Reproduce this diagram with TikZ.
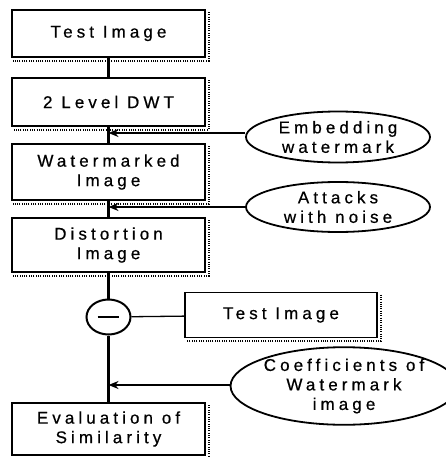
\documentclass[tikz,border=0pt]{standalone}
\usepackage{fontspec}
\setmainfont{Liberation Sans}[LetterSpace=24,FakeBold=0.6]
\usetikzlibrary{shapes.geometric,arrows.meta}
\tikzset{
  txt/.style={font=\fontsize{17}{19.5}\selectfont, align=center, inner sep=0pt},
  box/.style={txt, draw, line width=1.8pt, rectangle, minimum width=193pt},
  oval/.style={txt, draw, line width=1.8pt, ellipse},
  shadowline/.style={line width=1.8pt, dash pattern=on 1pt off 1.3pt},
  vline/.style={line width=2.3pt},
  arr/.style={line width=2pt, -{Stealth[length=10pt,width=8pt]}},
}
\newcommand{\boxshadow}[1]{%
  \draw[shadowline] ([xshift=2.8pt,yshift=-3pt]#1.north east) -- ([xshift=2.8pt,yshift=-2.8pt]#1.south east) -- ([xshift=2pt,yshift=-2.8pt]#1.south west);}
\begin{document}
\begin{tikzpicture}[x=1pt,y=-1pt]
\useasboundingbox (0,0) rectangle (446,457);
\node[box, minimum height=47pt] (t1) at (108.5,33.5) {Test Image};
\node[box, minimum height=48pt] (dwt) at (108.5,102) {2 Level DWT};
\node[box, minimum height=56pt] (wm) at (108.5,172) {Watermarked\\Image};
\node[box, minimum height=54pt] (dist) at (108.5,245) {Distortion\\Image};
\node[draw, line width=2pt, ellipse, minimum width=44pt, minimum height=35pt, inner sep=0pt] (minus) at (108.5,317) {};
\node[box, minimum width=192pt, minimum height=45pt] (t2) at (281,315) {Test Image};
\node[box, minimum height=52pt] (ev) at (108.5,429) {Evaluation of\\Similarity};
\node[oval, minimum width=184pt, minimum height=51pt] (emb) at (338,137) {Embedding\\watermark};
\node[oval, minimum width=184pt, minimum height=50pt] (att) at (338,207) {Attacks\\with noise};
\node[oval, minimum width=201pt, minimum height=73pt] (coef) at (344,386) {Coefficients of\\Watermark\\image};
\foreach \n in {t1,dwt,wm,dist,t2,ev} {\boxshadow{\n}}
% minus sign
\draw[line width=2.6pt] ([xshift=-11pt]minus.center) -- ([xshift=10pt]minus.center);
% main vertical flow
\draw[vline] (t1) -- (dwt);
\draw[vline] (dwt) -- (wm);
\draw[vline] (wm) -- (dist);
\draw[vline] (dist) -- (minus);
\draw[vline] (minus) -- (ev);
\draw[line width=1.3pt] (minus) -- (t2);
% side inputs
\coordinate (a1) at (108.5,133);
\coordinate (a2) at (108.5,207);
\coordinate (a3) at (108.5,385);
\draw[arr] (emb.west |- a1) -- (a1);
\draw[arr] (att.west |- a2) -- (a2);
\draw[arr] (coef.west |- a3) -- (a3);
\end{tikzpicture}
\end{document}
